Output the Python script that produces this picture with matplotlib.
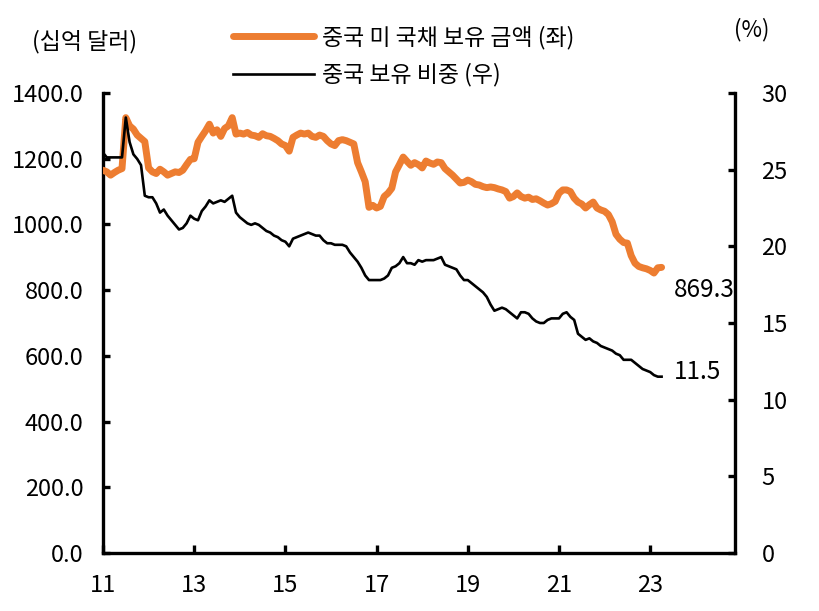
import numpy as np
import pandas as pd
import matplotlib
matplotlib.use("Agg")
import matplotlib.pyplot as plt

plt.rcParams['font.family'] = ['Noto Sans CJK KR', 'DejaVu Sans']

# China's holdings of US Treasuries (billion USD), monthly from Jan 2011
holdings = [
    1165, 1160, 1150, 1158, 1165, 1170, 1325, 1300, 1290, 1272, 1262, 1252,  # 2011
    1172, 1160, 1155, 1168, 1160, 1150, 1155, 1160, 1158, 1165, 1182, 1198,  # 2012
    1200, 1250, 1268, 1285, 1305, 1278, 1288, 1268, 1292, 1300, 1325, 1275,  # 2013
    1278, 1275, 1280, 1272, 1270, 1265, 1276, 1270, 1268, 1262, 1255, 1245,  # 2014
    1240, 1223, 1265, 1272, 1278, 1275, 1278, 1268, 1265, 1272, 1268, 1255,  # 2015
    1245, 1240, 1255, 1258, 1255, 1250, 1245, 1188, 1160, 1130, 1052, 1058,  # 2016
    1050, 1055, 1085, 1095, 1110, 1160, 1182, 1205, 1192, 1180, 1188, 1182,  # 2017
    1172, 1193, 1187, 1183, 1190, 1188, 1170, 1160, 1150, 1138, 1126, 1128,  # 2018
    1135, 1130, 1122, 1120, 1115, 1112, 1114, 1112, 1108, 1105, 1100, 1080,  # 2019
    1085, 1096, 1085, 1080, 1083, 1076, 1078, 1072, 1065, 1059, 1063, 1070,  # 2020
    1095, 1105, 1105, 1100, 1080, 1068, 1062, 1050, 1060, 1068, 1050, 1044,  # 2021
    1040, 1030, 1008, 970, 955, 945, 943, 905, 882, 872, 868, 865,           # 2022
    860, 852, 868, 869.3,                                                    # 2023
]

# China's share of foreign holdings (%)
share = [
    26.1, 25.8, 25.8, 25.8, 25.8, 25.8, 28.4, 26.8, 26.0, 25.7, 25.3, 23.3,  # 2011
    23.2, 23.2, 22.8, 22.2, 22.4, 22.0, 21.7, 21.4, 21.1, 21.2, 21.5, 22.0,  # 2012
    21.8, 21.7, 22.3, 22.6, 23.0, 22.8, 22.9, 23.0, 22.9, 23.1, 23.3, 22.2,  # 2013
    21.9, 21.7, 21.5, 21.4, 21.5, 21.4, 21.2, 21.0, 20.9, 20.7, 20.6, 20.4,  # 2014
    20.3, 20.0, 20.5, 20.6, 20.7, 20.8, 20.9, 20.8, 20.7, 20.7, 20.4, 20.2,  # 2015
    20.2, 20.1, 20.1, 20.1, 20.0, 19.6, 19.3, 19.0, 18.6, 18.1, 17.8, 17.8,  # 2016
    17.8, 17.8, 17.9, 18.1, 18.6, 18.7, 18.9, 19.3, 18.9, 18.9, 18.8, 19.1,  # 2017
    19.0, 19.1, 19.1, 19.1, 19.2, 19.3, 18.8, 18.7, 18.6, 18.5, 18.1, 17.8,  # 2018
    17.8, 17.6, 17.4, 17.2, 17.0, 16.7, 16.2, 15.8, 15.9, 16.0, 15.9, 15.7,  # 2019
    15.5, 15.3, 15.7, 15.7, 15.6, 15.3, 15.1, 15.0, 15.0, 15.2, 15.3, 15.3,  # 2020
    15.3, 15.6, 15.7, 15.4, 15.2, 14.3, 14.1, 13.9, 14.0, 13.8, 13.7, 13.5,  # 2021
    13.4, 13.3, 13.2, 13.0, 12.9, 12.6, 12.6, 12.6, 12.4, 12.2, 12.0, 11.9,  # 2022
    11.8, 11.6, 11.5, 11.5,                                                  # 2023
]

left_ticks = [0, 200, 400, 600, 800, 1000, 1200, 1400]
right_ticks = [0, 5, 10, 15, 20, 25, 30]
year_ticks = [2011, 2013, 2015, 2017, 2019, 2021, 2023]
year_labels = ['11', '13', '15', '17', '19', '21', '23']

label_amount = '중국 미 국채 보유 금액 (좌)'
label_share = '중국 보유 비중 (우)'

dates = pd.date_range('2011-01-01', periods=len(holdings), freq='MS')
x = dates.year + (dates.month - 1) / 12.0

orange = '#ED7D31'

fig = plt.figure(figsize=(8.2, 6.11), dpi=100)
ax = fig.add_axes([103/820, 1-553/611, 632/820, 460/611])
ax2 = ax.twinx()

l1, = ax.plot(x, holdings, color=orange, lw=5, solid_joinstyle='round',
              solid_capstyle='round', label=label_amount, zorder=3)
l2, = ax2.plot(x, share, color='black', lw=1.9, label=label_share, zorder=3)

ax.set_xlim(2011, 2024.86)
ax.set_ylim(0, 1400)
ax2.set_ylim(0, 30)

ax.set_xticks(year_ticks)
ax.set_xticklabels(year_labels)
ax.set_yticks(left_ticks)
ax.set_yticklabels([f'{v:.1f}' for v in left_ticks])
ax2.set_yticks(right_ticks)

for a in (ax, ax2):
    a.spines['top'].set_visible(False)
    for s in a.spines.values():
        s.set_linewidth(2.4)
ax2.spines['left'].set_visible(False)
ax2.spines['bottom'].set_visible(False)
ax.spines['right'].set_visible(False)

ax.tick_params(axis='y', direction='in', length=5, width=2.4, labelsize=17, pad=14)
ax.tick_params(axis='x', direction='in', length=6, width=2.4, labelsize=17, pad=15)
ax2.tick_params(axis='y', direction='in', length=5, width=2.4, labelsize=17, pad=19)

# end-point labels (the amount label is cut off by the right axis, as in the source)
ax.text(x[-1] + 0.27, 800, f'{holdings[-1]:.1f}', fontsize=17.5, va='center',
        ha='left', clip_on=True)
ax2.text(x[-1] + 0.27, share[-1] + 0.3, f'{share[-1]:.1f}', fontsize=17.5,
         va='center', ha='left')

fig.text(85/820, 1-42/611, '(십억 달러)', fontsize=16.5, ha='center', va='center')
fig.text(752/820, 1-30/611, '(%)', fontsize=16, ha='center', va='center')

ax.legend(handles=[l1, l2], loc='upper left', bbox_to_anchor=(222/820, 1-14/611),
          bbox_transform=fig.transFigure, frameon=False, fontsize=16.5,
          handlelength=3.5, handletextpad=0.35, labelspacing=0.6, borderpad=0)

fig.savefig('out.png', dpi=100)
